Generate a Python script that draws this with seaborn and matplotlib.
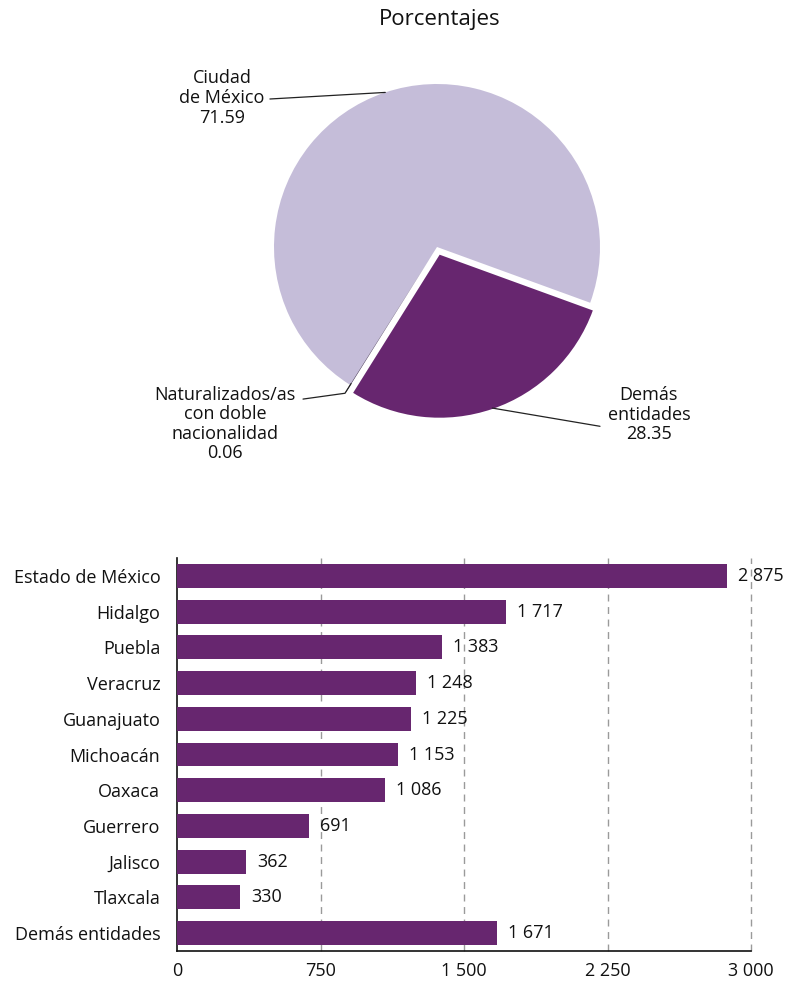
import numpy as np
import pandas as pd
import matplotlib
matplotlib.use("Agg")
import matplotlib.pyplot as plt
import seaborn as sns

# ---- data ----
pie_labels = ["Ciudad\nde México", "Naturalizados/as\ncon doble\nnacionalidad", "Demás\nentidades"]
pie_values = [71.59, 0.06, 28.35]

states = ["Estado de México", "Hidalgo", "Puebla", "Veracruz", "Guanajuato",
          "Michoacán", "Oaxaca", "Guerrero", "Jalisco", "Tlaxcala", "Demás entidades"]
counts = [2875, 1717, 1383, 1248, 1225, 1153, 1086, 691, 362, 330, 1671]
x_ticks = [0, 750, 1500, 2250, 3000]
x_ticklabels = ["0", "750", "1 500", "2 250", "3 000"]

LIGHT = "#c5bdd9"
DARK = "#67266f"
SLIVER = "#3b2a4f"
TXT = "#111111"

sns.set_theme(style="white")
plt.rcParams['font.family'] = ['Open Sans', 'DejaVu Sans']
plt.rcParams['text.color'] = TXT

W, H = 790, 986
fig = plt.figure(figsize=(W / 100, H / 100), dpi=100)

# ---- pie ----
R = 163.0
cx, cy = 437, 247
half = 240
axp = fig.add_axes([(cx - half) / W, (H - cy - half) / H, 2 * half / W, 2 * half / H])
lim = half / R
wedges, _ = axp.pie(pie_values, colors=[LIGHT, SLIVER, DARK], startangle=-20,
                    counterclock=True, explode=[0, 0.05, 0.05],
                    wedgeprops=dict(linewidth=0))
axp.set_xlim(-lim, lim)
axp.set_ylim(-lim, lim)
axp.set_aspect('auto')
axp.axis('off')

def pt(angle_deg, r):
    a = np.deg2rad(angle_deg)
    return r * np.cos(a), r * np.sin(a)

cum = np.cumsum([0] + pie_values)
mids = [-20 + 3.6 * (cum[i] + cum[i + 1]) / 2 for i in range(3)]

fs = 13
# Ciudad de México
a0 = pt(108.5, 1.0)
axp.plot([-1.025, a0[0]], [0.908, a0[1]], color='#222', lw=0.9, clip_on=False)
axp.text(-1.319, 0.915, pie_labels[0] + "\n" + f"{pie_values[0]:.2f}", ha='center', va='center',
         fontsize=fs, linespacing=1.15)
# Naturalizados
k = pt(mids[1], 1.06)
e = pt(mids[1], 0.99)
axp.plot([-0.822, k[0], e[0]], [-0.933, k[1], e[1]], color='#222', lw=0.9, clip_on=False)
axp.text(-1.30, -1.085, pie_labels[1] + "\n" + f"{pie_values[1]:.2f}", ha='center', va='center',
         fontsize=fs, linespacing=1.1)
# Demás entidades
d = pt(mids[2], 1.045)
axp.plot([d[0], 1.0], [d[1], -1.10], color='#222', lw=0.9, clip_on=False)
axp.text(1.30, -1.03, pie_labels[2] + "\n" + f"{pie_values[2]:.2f}", ha='center', va='center',
         fontsize=fs, linespacing=1.1)

fig.text(440 / W, 1 - 20 / H, "Porcentajes", ha='center', va='center', fontsize=16)

# ---- bars ----
left, right, top, bottom = 177, 751, 558, 951
axb = fig.add_axes([left / W, (H - bottom) / H, (right - left) / W, (bottom - top) / H])
df = pd.DataFrame({"estado": states, "valor": counts})
sns.barplot(data=df, x="valor", y="estado", orient='h', color=DARK, width=0.67,
            saturation=1, ax=axb, zorder=3, linewidth=0)
axb.set_xlim(0, 3000)
axb.set_ylim(len(states) - 0.5, -0.5)
axb.set_xticks(x_ticks)
axb.set_xticklabels(x_ticklabels, fontsize=13, color=TXT)
axb.set_xlabel("")
axb.set_ylabel("")
axb.tick_params(axis='y', which='major', length=0, labelsize=13, pad=12, labelcolor=TXT)
axb.set_yticks(np.arange(-0.5, len(states) + 0.5, 1), minor=True)
axb.tick_params(axis='y', which='minor', length=5, width=1, direction='out', color='#111')
axb.tick_params(axis='x', which='major', length=4, width=1, direction='inout', color='#111',
                labelsize=13, pad=6)
for t in x_ticks[1:]:
    axb.axvline(t, color='#9a9a9a', lw=1, ls=(0, (5, 4)), zorder=1, clip_on=False)
for s in ['top', 'right']:
    axb.spines[s].set_visible(False)
for s in ['left', 'bottom']:
    axb.spines[s].set_color('#111')
    axb.spines[s].set_linewidth(1.2)
labels = [f"{v:,}".replace(",", " ") for v in counts]
axb.bar_label(axb.containers[0], labels=labels, padding=8, fontsize=13, color=TXT)

fig.savefig("out.png", dpi=100)
